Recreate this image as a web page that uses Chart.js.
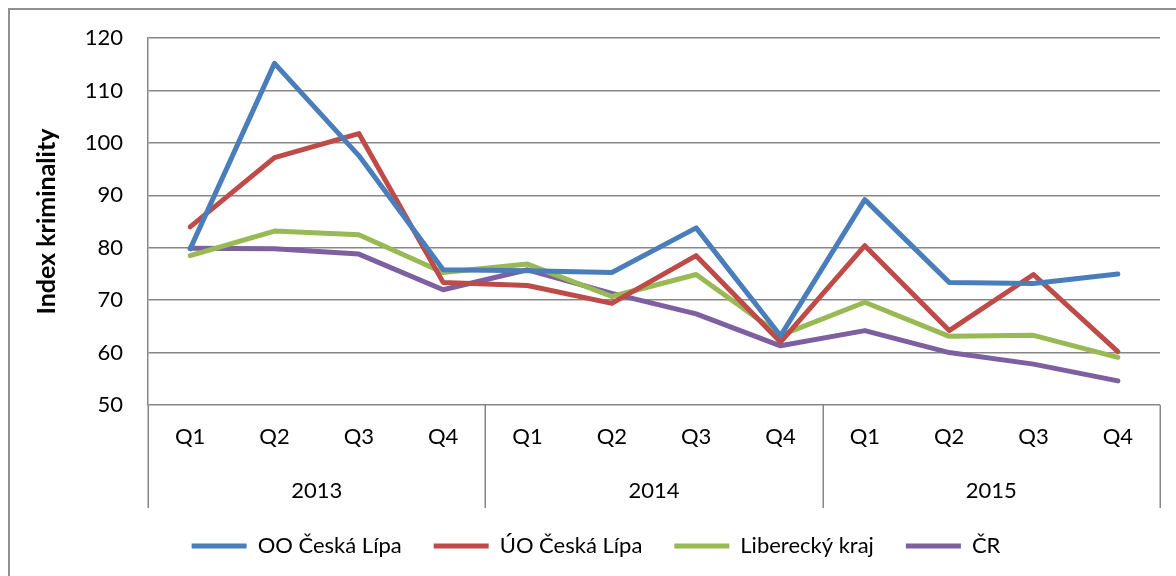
<!DOCTYPE html>
<html lang="cs">
<head>
  <meta charset="UTF-8">
  <title>Index kriminality</title>
  <style>
    body {
      margin: 0;
      background: #fff;
    }
    .wrap {
      position: relative;
      width: 1176px;
      height: 576px;
      overflow: hidden;
    }
    .frame {
      position: absolute;
      left: 8px;
      top: 8px;
      width: 1200px;
      height: 600px;
      border: 2px solid #909090;
    }
    canvas {
      position: absolute;
      left: 0;
      top: 0;
    }
  </style>
</head>
<body>
  <div class="wrap">
    <div class="frame"></div>
    <canvas id="chart" width="1176" height="576"></canvas>
  </div>

  <script src="https://cdn.jsdelivr.net/npm/chart.js"></script>
  <script>
    // data
    const quarters = ['Q1', 'Q2', 'Q3', 'Q4', 'Q1', 'Q2', 'Q3', 'Q4', 'Q1', 'Q2', 'Q3', 'Q4'];
    const years = ['2013', '2014', '2015'];
    const ooCeskaLipa = [79.8, 115.2, 97.6, 75.8, 75.6, 75.3, 83.8, 63.2, 89.2, 73.4, 73.2, 75.0];
    const uoCeskaLipa = [84.0, 97.2, 101.8, 73.4, 72.8, 69.4, 78.5, 62.0, 80.4, 64.2, 74.9, 60.2];
    const libereckyKraj = [78.5, 83.2, 82.5, 75.3, 76.9, 70.7, 74.9, 63.3, 69.6, 63.1, 63.3, 59.1];
    const cr = [79.9, 79.8, 78.8, 72.0, 75.8, 71.3, 67.4, 61.3, 64.2, 60.0, 57.8, 54.6];
    const yTicks = [50, 60, 70, 80, 90, 100, 110, 120];

    const gridColor = '#878787';
    const font = 'Lato, "Open Sans", sans-serif';

    function series(label, data, color) {
      return {
        label: label,
        data: data,
        borderColor: color,
        backgroundColor: color,
        borderWidth: 5,
        borderCapStyle: 'round',
        borderJoinStyle: 'round',
        pointRadius: 0,
        pointHoverRadius: 0,
        pointStyle: 'line',
        tension: 0
      };
    }

    // second level of the category axis: year labels and separators
    const yearAxis = {
      id: 'yearAxis',
      afterDraw(chart) {
        const ctx = chart.ctx;
        const x = chart.scales.x;
        const area = chart.chartArea;
        const step = x.getPixelForValue(1) - x.getPixelForValue(0);
        const bottom = area.bottom + 103;
        ctx.save();
        ctx.strokeStyle = gridColor;
        ctx.lineWidth = 1.5;
        for (let i = 0; i <= quarters.length; i += 4) {
          const px = Math.round(x.getPixelForValue(i) - step / 2) + 0.25;
          ctx.beginPath();
          ctx.moveTo(px, area.bottom);
          ctx.lineTo(px, bottom);
          ctx.stroke();
        }
        ctx.fillStyle = '#000';
        ctx.font = '22px ' + font;
        ctx.textAlign = 'center';
        ctx.textBaseline = 'middle';
        years.forEach((year, k) => {
          const cx = (x.getPixelForValue(k * 4) + x.getPixelForValue(k * 4 + 3)) / 2;
          ctx.fillText(year, cx, area.bottom + 86);
        });
        ctx.restore();
      }
    };

    new Chart(document.getElementById('chart'), {
      type: 'line',
      data: {
        labels: quarters,
        datasets: [
          series('OO Česká Lípa', ooCeskaLipa, '#4A7EBB'),
          series('ÚO Česká Lípa', uoCeskaLipa, '#BE4B48'),
          series('Liberecký kraj', libereckyKraj, '#98B954'),
          series('ČR', cr, '#7D60A0')
        ]
      },
      options: {
        responsive: false,
        animation: false,
        devicePixelRatio: 1,
        layout: {
          padding: { top: 38, right: 16, bottom: 9, left: 32 }
        },
        plugins: {
          tooltip: { enabled: false },
          legend: {
            position: 'bottom',
            labels: {
              usePointStyle: true,
              pointStyleWidth: 55,
              padding: 32,
              color: '#000',
              font: { family: font, size: 22 }
            }
          }
        },
        scales: {
          x: {
            offset: true,
            grid: { display: false },
            border: { display: false },
            ticks: {
              color: '#000',
              padding: 11,
              maxRotation: 0,
              autoSkip: false,
              font: { family: font, size: 22 }
            },
            afterFit(scale) { scale.height = 98; }
          },
          y: {
            min: 50,
            max: 120,
            afterBuildTicks(scale) {
              scale.ticks = yTicks.map(v => ({ value: v }));
            },
            grid: { color: gridColor, lineWidth: 1.5, drawTicks: false },
            border: { color: gridColor, width: 1.5 },
            ticks: {
              color: '#000',
              padding: 25,
              font: { family: font, size: 22 }
            },
            title: {
              display: true,
              text: 'Index kriminality',
              color: '#000',
              padding: { top: 0, bottom: 0 },
              font: { family: font, size: 25, weight: 'bold' }
            },
            afterFit(scale) { scale.width = 116; }
          }
        }
      },
      plugins: [yearAxis]
    });
  </script>
</body>
</html>
